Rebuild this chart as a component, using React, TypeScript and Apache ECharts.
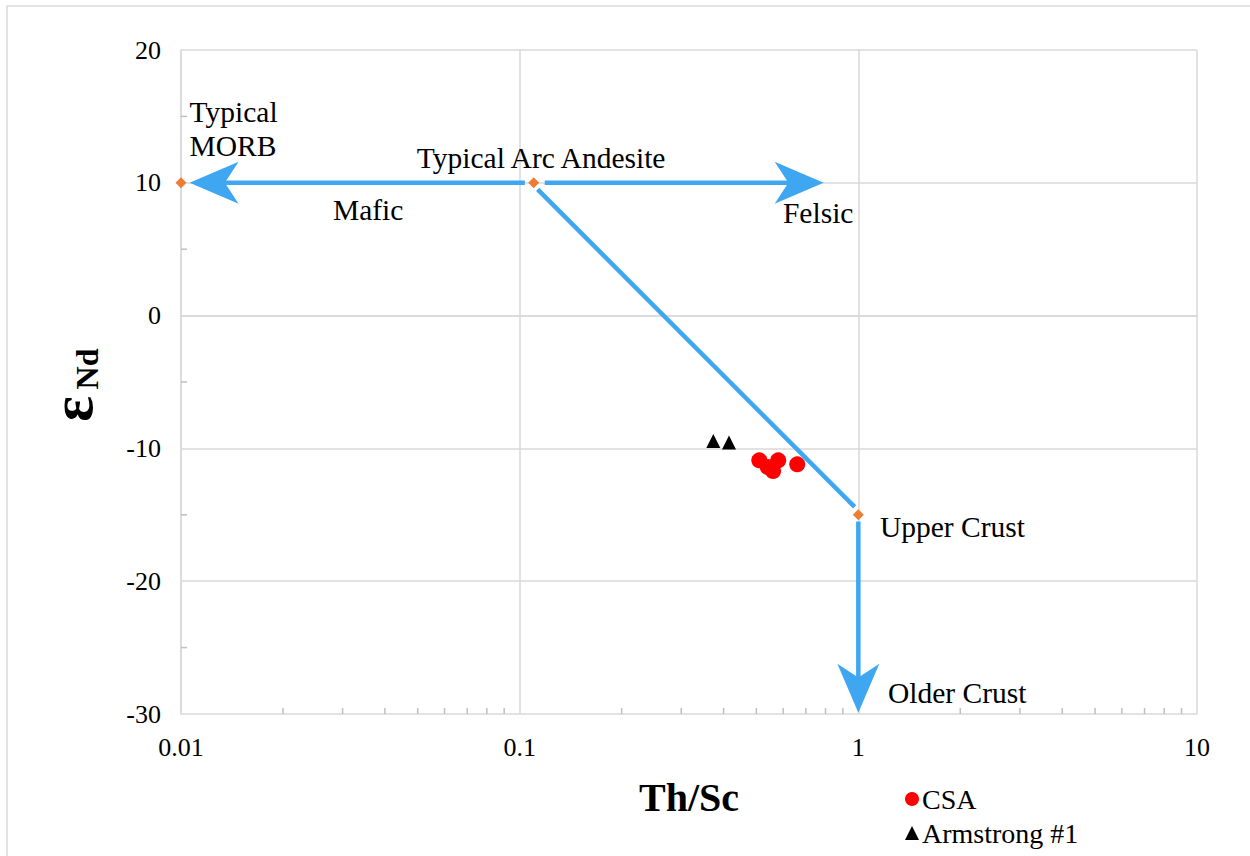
import React, { useEffect, useRef } from "react";
import * as echarts from "echarts";

const FONT = "'Liberation Serif', 'Times New Roman', serif";
const BLUE = "#3fa7f2";
const GRID = "#d9d9d9";

// Samples
const csaThSc = [0.51, 0.54, 0.56, 0.58, 0.66];
const csaEpsNd = [-10.9, -11.4, -11.7, -10.9, -11.2];
const armThSc = [0.373, 0.415];
const armEpsNd = [-9.45, -9.55];

// Reference compositions
const refNames = ["Typical MORB", "Typical Arc Andesite", "Upper Crust"];
const refThSc = [0.01, 0.11, 1];
const refEpsNd = [10, 10, -15];

// Trend arrows (from -> to, head flag)
const arrowFromX = [0.1036, 0.1186, 0.113, 1];
const arrowFromY = [10, 10, 9.5, -15.5];
const arrowToX = [0.0106, 0.79, 0.975, 1];
const arrowToY = [10, 10, -14.4, -29.9];
const arrowHead = [1, 1, 0, 1];

// Annotations (left edge, vertical centre)
const noteText = ["Typical\nMORB", "Typical Arc Andesite", "Mafic", "Felsic", "Upper Crust", "Older Crust"];
const noteX = [0.0106, 0.0497, 0.0281, 0.599, 1.158, 1.223];
const noteY = [14.05, 11.87, 7.95, 7.73, -15.92, -28.42];

// Axis ticks
const xTickLabels = ["0.01", "0.1", "1", "10"];
const xMinorTicks = [
  0.02, 0.03, 0.04, 0.05, 0.06, 0.07, 0.08, 0.09,
  0.2, 0.3, 0.4, 0.5, 0.6, 0.7, 0.8, 0.9,
  2, 3, 4, 5, 6, 7, 8, 9,
];
const yMinorTicks = [-25, -15, -5, 5, 15];

const tickRich = { t: { fontSize: 26, fontFamily: FONT, color: "#000" } };

export default function App() {
  const ref = useRef<HTMLDivElement>(null);

  useEffect(() => {
    if (!ref.current) return;
    const chart = echarts.init(ref.current, null, { renderer: "svg" });

    const arrowData = arrowFromX.map((x, i) => [x, arrowFromY[i], arrowToX[i], arrowToY[i], arrowHead[i]]);
    const noteData = noteX.map((x, i) => [x, noteY[i]]);

    const option: any = {
      animation: false,
      backgroundColor: "#fff",
      textStyle: { fontFamily: FONT },
      grid: { left: 181, right: 53, top: 50, bottom: 142, containLabel: false, outerBoundsMode: "none" },
      xAxis: {
        type: "log",
        logBase: 10,
        min: 0.01,
        max: 10,
        axisLine: { show: true, lineStyle: { color: GRID, width: 1.5 } },
        axisTick: { show: false },
        splitLine: { show: true, lineStyle: { color: GRID, width: 1.5 } },
        axisLabel: {
          fontSize: 26,
          fontFamily: FONT,
          color: "#000",
          margin: 20,
          rich: tickRich,
          formatter: (_v: number, i: number) => `{t|${xTickLabels[i] ?? ""}}`,
        },
        name: "Th/Sc",
        nameLocation: "middle",
        nameGap: 83,
        nameTextStyle: { fontSize: 40, fontWeight: "bold", fontFamily: FONT, color: "#000", verticalAlign: "middle" },
      },
      yAxis: {
        type: "value",
        min: -30,
        max: 20,
        interval: 10,
        axisLine: { show: true, lineStyle: { color: GRID, width: 1.5 } },
        axisTick: { show: false },
        splitLine: { show: true, lineStyle: { color: GRID, width: 1.5 } },
        axisLabel: {
          fontSize: 26,
          fontFamily: FONT,
          color: "#000",
          margin: 20,
          rich: tickRich,
          formatter: (v: number) => `{t|${v}}`,
        },
      },
      legend: {
        orient: "vertical",
        left: 900,
        top: 780,
        itemWidth: 14,
        itemHeight: 14,
        itemGap: 6,
        textStyle: { fontSize: 28, fontFamily: FONT, color: "#000", padding: [0, 0, 0, -2] },
        data: [
          { name: "CSA", icon: "circle" },
          { name: "Armstrong #1", icon: "triangle" },
        ],
      },
      graphic: [
        {
          type: "rect",
          silent: true,
          z: -10,
          shape: { x: 7, y: 6, width: 1300, height: 900 },
          style: { fill: "none", stroke: GRID, lineWidth: 1.5 },
        },
        {
          type: "text",
          x: 72,
          y: 409,
          rotation: Math.PI / 2,
          style: { text: "ε", fontSize: 60, fontWeight: "bold", fontFamily: FONT, fill: "#000", align: "center", verticalAlign: "middle" },
        },
        {
          type: "text",
          x: 87,
          y: 369,
          rotation: Math.PI / 2,
          style: { text: "Nd", fontSize: 32, fontWeight: "bold", fontFamily: FONT, fill: "#000", align: "center", verticalAlign: "middle" },
        },
      ],
      series: [
        {
          name: "minor-x",
          type: "custom",
          silent: true,
          clip: false,
          data: xMinorTicks.map((v) => [v, -30]),
          renderItem: (_p: any, api: any) => {
            const p = api.coord([api.value(0), api.value(1)]);
            return { type: "line", shape: { x1: p[0], y1: p[1], x2: p[0], y2: p[1] - 6 }, style: { stroke: "#bfbfbf", lineWidth: 1.5 } };
          },
        },
        {
          name: "minor-y",
          type: "custom",
          silent: true,
          clip: false,
          data: yMinorTicks.map((v) => [0.01, v]),
          renderItem: (_p: any, api: any) => {
            const p = api.coord([api.value(0), api.value(1)]);
            return { type: "line", shape: { x1: p[0], y1: p[1], x2: p[0] + 6, y2: p[1] }, style: { stroke: "#bfbfbf", lineWidth: 1.5 } };
          },
        },
        {
          name: "trends",
          type: "custom",
          silent: true,
          clip: false,
          z: 3,
          data: arrowData,
          renderItem: (_p: any, api: any) => {
            const p1 = api.coord([api.value(0), api.value(1)]);
            const p2 = api.coord([api.value(2), api.value(3)]);
            const head = api.value(4);
            const dx = p2[0] - p1[0];
            const dy = p2[1] - p1[1];
            const len = Math.hypot(dx, dy) || 1;
            const ux = dx / len;
            const uy = dy / len;
            const nx = -uy;
            const ny = ux;
            const L = 49;
            const W = 42;
            const children: any[] = [];
            let end = p2;
            if (head) {
              end = [p2[0] - ux * L * 0.7, p2[1] - uy * L * 0.7];
              const back = [p2[0] - ux * L, p2[1] - uy * L];
              const notch = [p2[0] - ux * L * 0.72, p2[1] - uy * L * 0.72];
              children.push({
                type: "polygon",
                shape: {
                  points: [
                    p2,
                    [back[0] + (nx * W) / 2, back[1] + (ny * W) / 2],
                    notch,
                    [back[0] - (nx * W) / 2, back[1] - (ny * W) / 2],
                  ],
                },
                style: { fill: BLUE },
              });
            }
            children.push({
              type: "line",
              shape: { x1: p1[0], y1: p1[1], x2: end[0], y2: end[1] },
              style: { stroke: BLUE, lineWidth: 4.5 },
            });
            return { type: "group", children };
          },
        },
        {
          name: "notes",
          type: "custom",
          silent: true,
          clip: false,
          z: 4,
          data: noteData,
          renderItem: (params: any, api: any) => {
            const p = api.coord([api.value(0), api.value(1)]);
            return {
              type: "text",
              x: p[0],
              y: p[1],
              style: {
                text: noteText[params.dataIndex],
                fontSize: 29.5,
                fontFamily: FONT,
                fill: "#000",
                align: "left",
                verticalAlign: "middle",
                lineHeight: 34,
              },
            };
          },
        },
        {
          name: "Reference",
          type: "scatter",
          symbol: "diamond",
          symbolSize: 11,
          z: 6,
          itemStyle: { color: "#ed7d31", opacity: 1 },
          data: refThSc.map((x, i) => ({ name: refNames[i], value: [x, refEpsNd[i]] })),
        },
        {
          name: "CSA",
          type: "scatter",
          symbol: "circle",
          symbolSize: 16,
          z: 5,
          itemStyle: { color: "#ff0000", opacity: 1 },
          data: csaThSc.map((x, i) => [x, csaEpsNd[i]]),
        },
        {
          name: "Armstrong #1",
          type: "scatter",
          symbol: "triangle",
          symbolSize: 14,
          z: 5,
          itemStyle: { color: "#000", opacity: 1 },
          data: armThSc.map((x, i) => [x, armEpsNd[i]]),
        },
      ],
    };

    chart.setOption(option);
    return () => chart.dispose();
  }, []);

  return (
    <div
      ref={ref}
      style={{ position: "fixed", left: 0, top: 0, width: 1250, height: 856, background: "#fff" }}
    />
  );
}
